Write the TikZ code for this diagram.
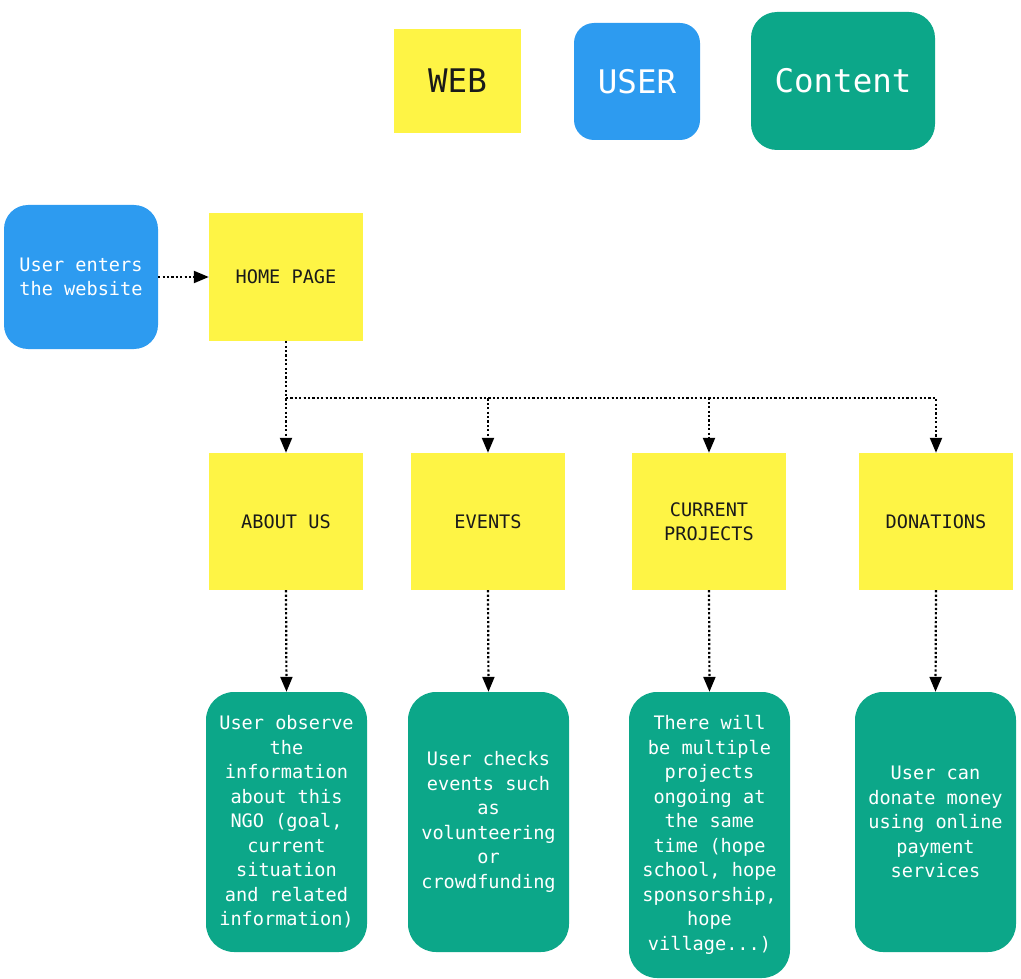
\documentclass[tikz,border=0pt]{standalone}
\usepackage{fontspec}
\setmonofont{DejaVu Sans Mono}
\usetikzlibrary{arrows.meta}
\definecolor{webyellow}{HTML}{FEF445}
\definecolor{userblue}{HTML}{2D9BF0}
\definecolor{contgreen}{HTML}{0CA789}
\definecolor{darktext}{HTML}{1A1A1A}
\tikzset{
  webbox/.style={fill=webyellow, draw=none, text=darktext, align=center,
    font=\ttfamily\fontsize{18.6}{24.5}\selectfont, inner sep=0pt},
  userbox/.style={fill=userblue, draw=none, text=white, rounded corners=24pt, align=center,
    font=\ttfamily\fontsize{18.6}{24.5}\selectfont, inner sep=0pt},
  contbox/.style={fill=contgreen, draw=none, text=white, rounded corners=28pt, align=center,
    font=\ttfamily\fontsize{18.6}{24.5}\selectfont, inner sep=0pt},
  legendfont/.style={font=\ttfamily\fontsize{32.5}{36}\selectfont},
  conn/.style={line width=2.2pt, dash pattern=on 2.2pt off 2.2pt, draw=black,
    -{Triangle[length=15pt,width=12pt]}},
  busline/.style={line width=2.2pt, dash pattern=on 2.2pt off 2.2pt, draw=black},
}
\begin{document}
\begin{tikzpicture}[x=1pt,y=-1pt]
\useasboundingbox (0,0) rectangle (1021,979);
% legend
\node[webbox, legendfont, minimum width=127pt, minimum height=104pt] (lweb) at (457.5,81) {WEB};
\node[userbox, legendfont, rounded corners=20pt, minimum width=126pt, minimum height=117pt] (luser) at (637,81.5) {USER};
\node[contbox, legendfont, rounded corners=26pt, minimum width=184pt, minimum height=138pt] (lcont) at (843,81) {Content};
% main flow
\node[userbox, minimum width=154pt, minimum height=144pt] (enter) at (81,277) {User enters\\the website};
\node[webbox, minimum width=154pt, minimum height=128pt] (home) at (286,277) {HOME PAGE};
\node[webbox, minimum width=154pt, minimum height=137pt] (about) at (286,521.5) {ABOUT US};
\node[webbox, minimum width=154pt, minimum height=137pt] (events) at (488,521.5) {EVENTS};
\node[webbox, minimum width=154pt, minimum height=137pt] (projects) at (709,521.5) {CURRENT\\PROJECTS};
\node[webbox, minimum width=154pt, minimum height=137pt] (donations) at (936,521.5) {DONATIONS};
\node[contbox, minimum width=161pt, minimum height=260pt] (caboutus) at (286.5,822) {User observe\\the\\information\\about this\\NGO (goal,\\current\\situation\\and related\\information)};
\node[contbox, minimum width=161pt, minimum height=260pt] (cevents) at (488.5,822) {User checks\\events such\\as\\volunteering\\or\\crowdfunding};
\node[contbox, minimum width=161pt, minimum height=286pt] (cprojects) at (709.5,835) {There will\\be multiple\\projects\\ongoing at\\the same\\time (hope\\school, hope\\sponsorship,\\hope\\village...)};
\node[contbox, minimum width=161pt, minimum height=260pt] (cdonations) at (935.5,822) {User can\\donate money\\using online\\payment\\services};
% connectors
\coordinate (bus) at (286,398);
\draw[conn] (enter) -- (home);
\draw[conn] (home.south) -- (about.north);
\draw[busline] (bus) -- (bus -| donations.north);
\draw[conn] (bus) -| (events.north);
\draw[conn] (bus) -| (projects.north);
\draw[conn] (bus) -| (donations.north);
\draw[conn] (about.south) -- (caboutus.north);
\draw[conn] (events.south) -- (cevents.north);
\draw[conn] (projects.south) -- (cprojects.north);
\draw[conn] (donations.south) -- (cdonations.north);
\end{tikzpicture}
\end{document}
